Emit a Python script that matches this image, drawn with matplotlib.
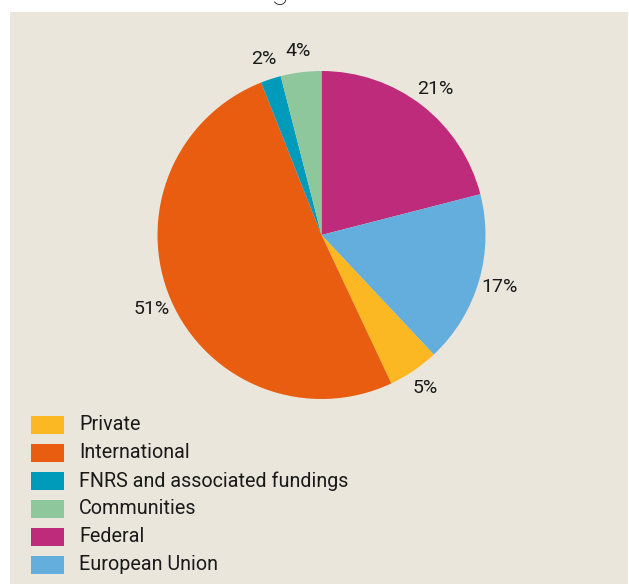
import matplotlib
matplotlib.use('Agg')
import matplotlib.pyplot as plt
from matplotlib.patches import Rectangle

# funding shares (%), in drawing order (clockwise from 12 o'clock)
sources = ['Federal', 'European Union', 'Private', 'International',
           'FNRS and associated fundings', 'Communities']
shares = [21, 17, 5, 51, 2, 4]
colors = ['#be2b7b', '#64aedd', '#fbb823', '#e85d10', '#009bbb', '#8fc79d']

# order used in the key below the pie
legend_order = ['Private', 'International', 'FNRS and associated fundings',
                'Communities', 'Federal', 'European Union']

bg = '#ebe6dc'
W, H = 629, 584
font = ['Liberation Sans Narrow', 'Roboto', 'DejaVu Sans']

fig = plt.figure(figsize=(W / 100, H / 100), dpi=100)
fig.patch.set_facecolor('white')

# beige panel
fig.patches.append(Rectangle((10 / W, 0), 618 / W, (H - 12) / H,
                             transform=fig.transFigure, facecolor=bg,
                             edgecolor='none', zorder=-5))

# title, mostly cut off by the top edge
fig.text(18 / W, 1 + 2.2 / H, 'Sources of funding', fontsize=24,
         family=['Roboto', 'DejaVu Sans'], fontweight='light', color='#222222',
         va='baseline', ha='left')

# pie: centre (321.5, 235) px, radius 164 px
cx, cy, r = 321.5, 235, 164
half = r * 1.25
ax = fig.add_axes([(cx - half) / W, (H - cy - half) / H, 2 * half / W, 2 * half / H])
ax.set_zorder(2)
ax.set_facecolor('none')
wedges, texts, autotexts = ax.pie(shares, colors=colors, startangle=90,
                                  counterclock=False, autopct='%d%%',
                                  pctdistance=1.13,
                                  wedgeprops=dict(linewidth=0))
for t in autotexts:
    t.set_fontfamily(font)
    t.set_fontsize(14)
    t.set_color('#1a1a1a')
ax.set_xlim(-1.25, 1.25)
ax.set_ylim(-1.25, 1.25)
ax.set_aspect('equal')
ax.axis('off')

# key
for k, name in enumerate(legend_order):
    i = sources.index(name)
    yc = 425 + 28 * k
    fig.patches.append(Rectangle((31 / W, (H - yc - 9) / H), 33 / W, 18 / H,
                                 transform=fig.transFigure, facecolor=colors[i],
                                 edgecolor='none', zorder=2))
    fig.text(79 / W, (H - yc) / H, name, fontsize=14.2, family=font,
             color='#1a1a1a', va='center', ha='left')

fig.savefig('out.png', dpi=100, facecolor=fig.get_facecolor())
